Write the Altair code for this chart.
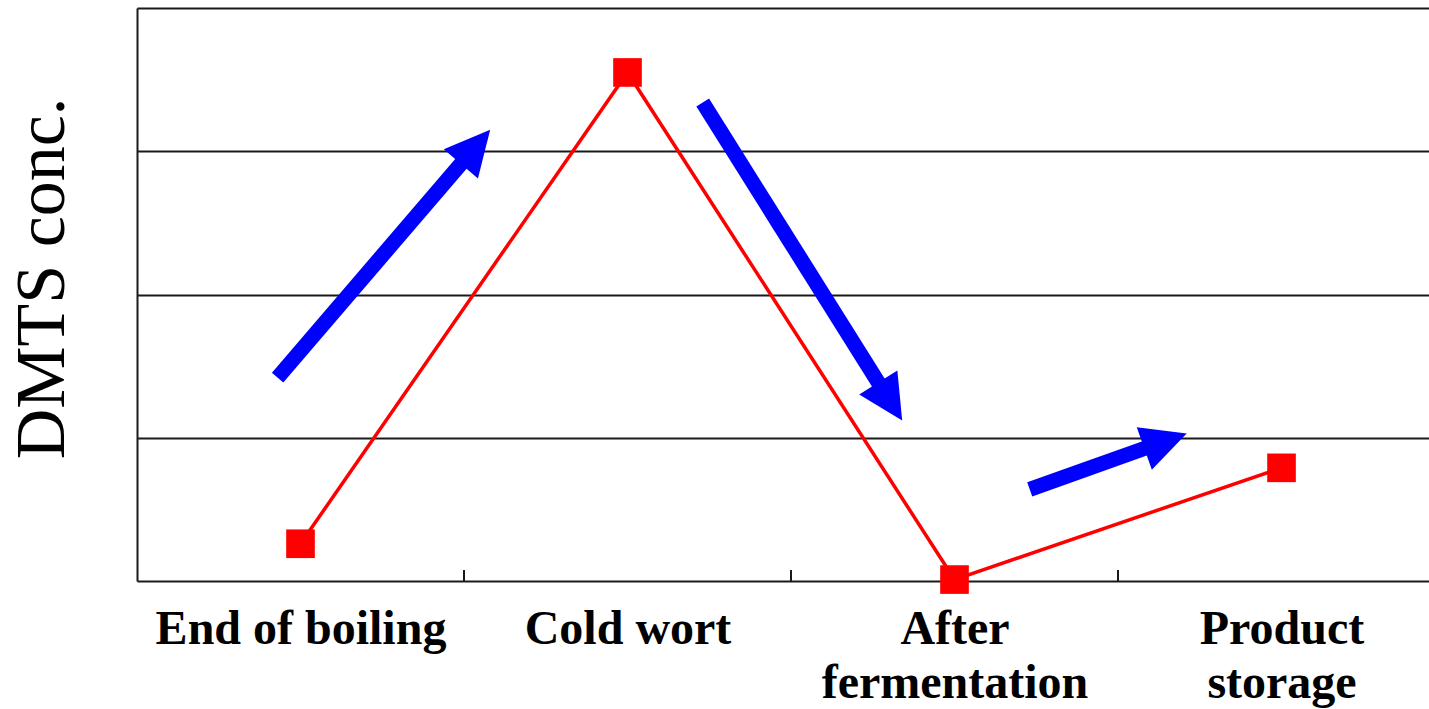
import math
import json
import altair as alt
import pandas as pd

# ---------------- data ----------------
stages = ["End of boiling", "Cold wort", "After\nfermentation", "Product\nstorage"]
stage_pos = [0.5, 1.5, 2.5, 3.5]
dmts = [0.26, 3.55, 0.01, 0.79]

# trend arrows (tail -> tip), in data units (stage position, concentration)
arrow_id = [1, 2, 3]
arrow_tail_x = [0.43, 1.73, 2.73]
arrow_tail_y = [1.42, 3.34, 0.64]
arrow_tip_x = [1.08, 2.34, 3.21]
arrow_tip_y = [3.15, 1.12, 1.03]

minor_ticks = [1, 2, 3]
grid_values = [1, 2, 3, 4]

# ---------------- layout ----------------
W, H = 1292, 573
X_MAX = 3.951
Y_MAX = 4.0
PX_X = W / X_MAX
PX_Y = H / Y_MAX
HEAD = 45.0      # arrow head length/width in px
SHAFT = 15       # arrow shaft width in px

line_df = pd.DataFrame({"stage": [s.replace("\n", " ") for s in stages],
                        "x": stage_pos, "y": dmts})

shaft_rows, head_rows = [], []
for i, tx, ty, px, py in zip(arrow_id, arrow_tail_x, arrow_tail_y, arrow_tip_x, arrow_tip_y):
    dxp = (px - tx) * PX_X
    dyp = (py - ty) * PX_Y
    L = math.hypot(dxp, dyp)
    ux, uy = dxp / L, dyp / L
    base_x = px - (HEAD - 3) * ux / PX_X
    base_y = py - (HEAD - 3) * uy / PX_Y
    cx = px - HEAD / 2 * ux / PX_X
    cy = py - HEAD / 2 * uy / PX_Y
    ang = math.degrees(math.atan2(ux, uy)) % 360
    shaft_rows.append({"id": i, "o": 0, "x": tx, "y": ty})
    shaft_rows.append({"id": i, "o": 1, "x": base_x, "y": base_y})
    head_rows.append({"id": i, "x": cx, "y": cy, "ang": ang})
shaft_df = pd.DataFrame(shaft_rows)
head_df = pd.DataFrame(head_rows)
tick_df = pd.DataFrame({"x": minor_ticks, "y": [0] * len(minor_ticks),
                        "y2": [11 / PX_Y] * len(minor_ticks)})

# label expression (multi-line labels as arrays)
parts = []
for p, s in zip(stage_pos, stages):
    parts.append((p, json.dumps(s.split("\n")).replace('"', "'")))
expr = parts[-1][1]
for p, lab in reversed(parts[:-1]):
    expr = f"datum.value < {p + 0.25} ? {lab} : ({expr})"

AX_COLOR = "#1a1a1a"
xscale = alt.Scale(domain=[0, X_MAX], nice=False, zero=False)
yscale = alt.Scale(domain=[0, Y_MAX], nice=False)

x_axis = alt.Axis(values=stage_pos, labelExpr=expr, title=None, grid=False, ticks=False,
                  labelFont="Liberation Serif", labelFontWeight="bold", labelFontSize=48,
                  labelColor="black", labelPadding=24, labelLineHeight=54, labelLimit=0,
                  labelOverlap=False, labelFlush=False, labelBound=False,
                  domainColor=AX_COLOR, domainWidth=2)
y_axis = alt.Axis(values=grid_values, labels=False, ticks=False, grid=True,
                  gridColor=AX_COLOR, gridWidth=2, domainColor=AX_COLOR, domainWidth=2,
                  title="DMTS conc.", titleFont="Liberation Serif", titleFontWeight="normal",
                  titleFontSize=70, titleColor="black", titleAngle=270,
                  titleX=-74, titleY=270, titleAlign="center", titleBaseline="alphabetic")

base_line = alt.Chart(line_df).mark_line(color="#ff0000", strokeWidth=3.5).encode(
    x=alt.X("x:Q", scale=xscale, axis=x_axis),
    y=alt.Y("y:Q", scale=yscale, axis=y_axis),
)

ticks = alt.Chart(tick_df).mark_rule(color=AX_COLOR, strokeWidth=2).encode(
    x=alt.X("x:Q", scale=xscale), y=alt.Y("y:Q", scale=yscale), y2="y2:Q")

shafts = alt.Chart(shaft_df).mark_line(color="#0000ff", strokeWidth=SHAFT, strokeCap="butt").encode(
    x=alt.X("x:Q", scale=xscale), y=alt.Y("y:Q", scale=yscale),
    detail="id:N", order="o:Q")

heads = alt.Chart(head_df).mark_point(shape="M0,-1L1,1L-1,1Z", filled=True, opacity=1,
                                      color="#0000ff", size=HEAD * HEAD, strokeWidth=0).encode(
    x=alt.X("x:Q", scale=xscale), y=alt.Y("y:Q", scale=yscale),
    angle=alt.Angle("ang:Q", scale=None))

squares = alt.Chart(line_df).mark_point(shape="square", filled=True, opacity=1,
                                        color="#ff0000", size=820, strokeWidth=0).encode(
    x=alt.X("x:Q", scale=xscale), y=alt.Y("y:Q", scale=yscale))

chart = alt.layer(base_line, ticks, shafts, heads, squares).properties(
    width=W, height=H,
    padding={"left": 137, "top": 8, "right": 0, "bottom": 128},
    autosize="none",
    background="white",
).configure_view(stroke=None)

chart.save("out.html", embed_options={"renderer": "svg", "actions": False})
